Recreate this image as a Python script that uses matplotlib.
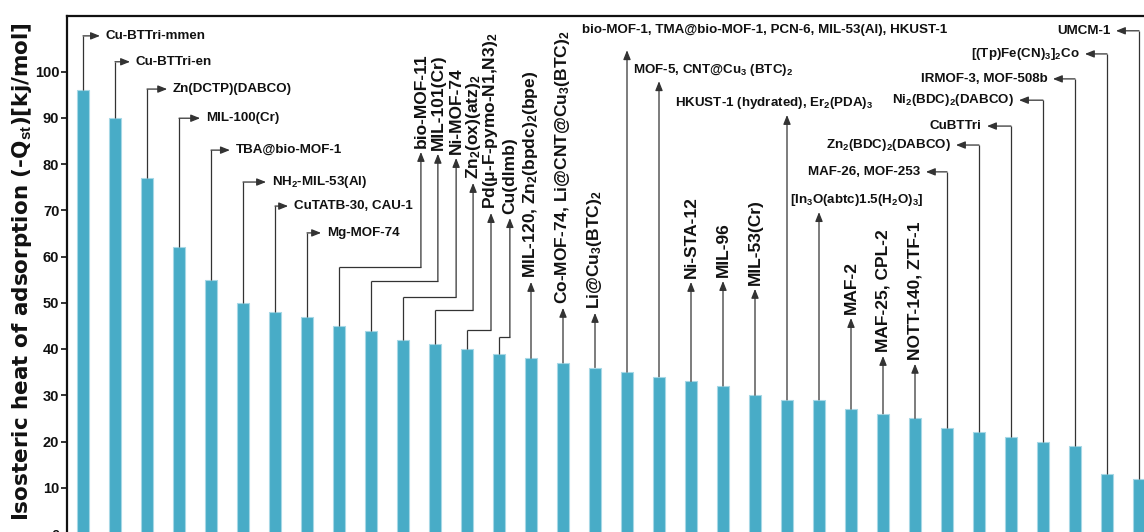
import matplotlib
matplotlib.use('Agg')
import matplotlib.pyplot as plt

# ---------------- data ----------------
materials = [
    'Cu-BTTri-mmen', 'Cu-BTTri-en', 'Zn(DCTP)(DABCO)', 'MIL-100(Cr)',
    'TBA@bio-MOF-1', 'NH$_2$-MIL-53(Al)', 'CuTATB-30, CAU-1', 'Mg-MOF-74',
    'bio-MOF-11', 'MIL-101(Cr)', 'Ni-MOF-74', 'Zn$_2$(ox)(atz)$_2$',
    'Pd(μ-F-pymo-N1,N3)$_2$', 'Cu(dlmb)', 'MIL-120, Zn$_2$(bpdc)$_2$(bpe)',
    'Co-MOF-74, Li@CNT@Cu$_3$(BTC)$_2$', 'Li@Cu$_3$(BTC)$_2$',
    'bio-MOF-1, TMA@bio-MOF-1, PCN-6, MIL-53(Al), HKUST-1',
    'MOF-5, CNT@Cu$_3$ (BTC)$_2$', 'Ni-STA-12', 'MIL-96', 'MIL-53(Cr)',
    'HKUST-1 (hydrated), Er$_2$(PDA)$_3$', '[In$_3$O(abtc)1.5(H$_2$O)$_3$]',
    'MAF-2', 'MAF-25, CPL-2', 'NOTT-140, ZTF-1', 'MAF-26, MOF-253',
    'Zn$_2$(BDC)$_2$(DABCO)', 'CuBTTri', 'Ni$_2$(BDC)$_2$(DABCO)',
    'IRMOF-3, MOF-508b', '[(Tp)Fe(CN)$_3$]$_2$Co', 'UMCM-1',
]
heat = [96, 90, 77, 62, 55, 50, 48, 47, 45, 44, 42, 41, 40, 39, 38, 37, 36,
        35, 34, 33, 32, 30, 29, 29, 27, 26, 25, 23, 22, 21, 20, 19, 13, 12]
yticks = [0, 10, 20, 30, 40, 50, 60, 70, 80, 90, 100]
ylabel = 'Isosteric heat of adsorption (-Q$_{st}$)[kj/mol]'

# ---------------- callout layout (axis units) ----------------
# 'right': up to level, then arrow right to x           -> (level, x)
# 'elbow': up to level, right to x, then arrow up to y  -> (level, x, y)
# 'up'   : arrow straight up to y, vertical label       -> (y,)
# 'upt'  : arrow straight up to y, horizontal label at (tx, ty) -> (y, tx, ty)
# 'left' : up to level, then arrow left to x            -> (level, x)
layout = [
    ('right', 107.7, 0.53), ('right', 102.1, 1.47), ('right', 96.2, 2.63),
    ('right', 89.9, 3.66), ('right', 83.0, 4.59), ('right', 76.1, 5.72),
    ('right', 70.9, 6.41), ('right', 65.1, 7.44),
    ('elbow', 57.7, 10.56, 82.6), ('elbow', 54.7, 11.09, 82.2),
    ('elbow', 51.2, 11.66, 81.3), ('elbow', 48.4, 12.19, 75.9),
    ('elbow', 44.1, 12.75, 69.4), ('elbow', 42.6, 13.34, 68.3),
    ('up', 54.5), ('up', 48.9), ('up', 47.8),
    ('upt', 104.6, 15.6, 109.0), ('upt', 97.9, 17.2, 100.3),
    ('up', 54.5), ('up', 54.7), ('up', 53.0),
    ('upt', 90.6, 18.5, 93.2), ('upt', 69.6, 22.1, 72.2),
    ('up', 46.7), ('up', 38.5), ('up', 36.8),
    ('left', 78.3, 26.34), ('left', 84.1, 27.28), ('left', 88.2, 28.25),
    ('left', 93.8, 29.25), ('left', 98.4, 30.31), ('left', 103.8, 31.31),
    ('left', 108.8, 32.28),
]

# ---------------- style ----------------
plt.rcParams['mathtext.fontset'] = 'custom'
plt.rcParams['mathtext.rm'] = 'Liberation Sans:bold'
plt.rcParams['mathtext.it'] = 'Liberation Sans:bold'
plt.rcParams['mathtext.bf'] = 'Liberation Sans:bold'
plt.rcParams['mathtext.default'] = 'rm'
bar_color = '#48acc7'
bar_edge = '#a6d8e6'
line_color = '#333333'
H_FONT = dict(family=['Liberation Sans', 'DejaVu Sans'], weight='bold',
              size=9.6, color='#111111')
V_FONT = dict(family=['Liberation Sans', 'DejaVu Sans'], weight='bold',
              size=12.5, color='#111111')
arrow_kw = dict(arrowstyle='-|>,head_length=0.55,head_width=0.22',
                color=line_color, lw=0.9, shrinkA=0, shrinkB=0,
                mutation_scale=10)

W, H = 1144, 532
fig = plt.figure(figsize=(W / 100, H / 100), dpi=100)
ax = fig.add_axes([67 / W, -2 / H, 1088 / W, 518 / H])

x = list(range(len(heat)))
ax.bar(x, heat, width=0.4, color=bar_color, edgecolor=bar_edge,
       linewidth=0.8, zorder=2)

ax.set_xlim(-0.5, 33.5)
ax.set_ylim(0, 112)
ax.set_yticks(yticks)
ax.set_xticks([])
for lab in ax.get_yticklabels():
    lab.set_fontfamily(['Liberation Sans'])
    lab.set_fontweight('bold')
    lab.set_fontsize(10.5)
ax.tick_params(axis='y', direction='out', length=4, width=1.2, pad=1.5,
               colors='#111111')
for side in ['top', 'left']:
    ax.spines[side].set_linewidth(1.6)
    ax.spines[side].set_color('#111111')
for side in ['right', 'bottom']:
    ax.spines[side].set_visible(False)


def seg(p, q):
    ax.plot([p[0], q[0]], [p[1], q[1]], color=line_color, lw=0.9,
            solid_capstyle='butt', zorder=3)


def arrow(p, q):
    ax.annotate('', xy=q, xytext=p, arrowprops=arrow_kw, zorder=3)


for i, (v, name, lay) in enumerate(zip(heat, materials, layout)):
    kind = lay[0]
    base = (i, v)
    if kind == 'right':
        lev, xt = lay[1], lay[2]
        seg(base, (i, lev))
        arrow((i, lev), (xt, lev))
        ax.annotate(name, xy=(xt, lev), xytext=(4, 0), textcoords='offset points',
                    ha='left', va='center', **H_FONT)
    elif kind == 'left':
        lev, xt = lay[1], lay[2]
        seg(base, (i, lev))
        arrow((i, lev), (xt, lev))
        ax.annotate(name, xy=(xt, lev), xytext=(-4, 0), textcoords='offset points',
                    ha='right', va='center', **H_FONT)
    elif kind == 'elbow':
        lev, xc, yt = lay[1], lay[2], lay[3]
        seg(base, (i, lev))
        seg((i, lev), (xc, lev))
        arrow((xc, lev), (xc, yt))
        ax.annotate(name, xy=(xc, yt), xytext=(0, 3), textcoords='offset points',
                    ha='center', va='bottom', rotation=90, **V_FONT)
    elif kind == 'up':
        yt = lay[1]
        arrow(base, (i, yt))
        ax.annotate(name, xy=(i, yt), xytext=(0, 3), textcoords='offset points',
                    ha='center', va='bottom', rotation=90, **V_FONT)
    elif kind == 'upt':
        yt, tx, ty = lay[1], lay[2], lay[3]
        arrow(base, (i, yt))
        ax.text(tx, ty, name, ha='left', va='center', **H_FONT)

fig.text(22 / W, 1 - 271.5 / H, ylabel, rotation=90, ha='center', va='center',
         family=['DejaVu Sans'], weight='bold', size=15.5, color='#111111')

fig.savefig('out.png', dpi=100)
